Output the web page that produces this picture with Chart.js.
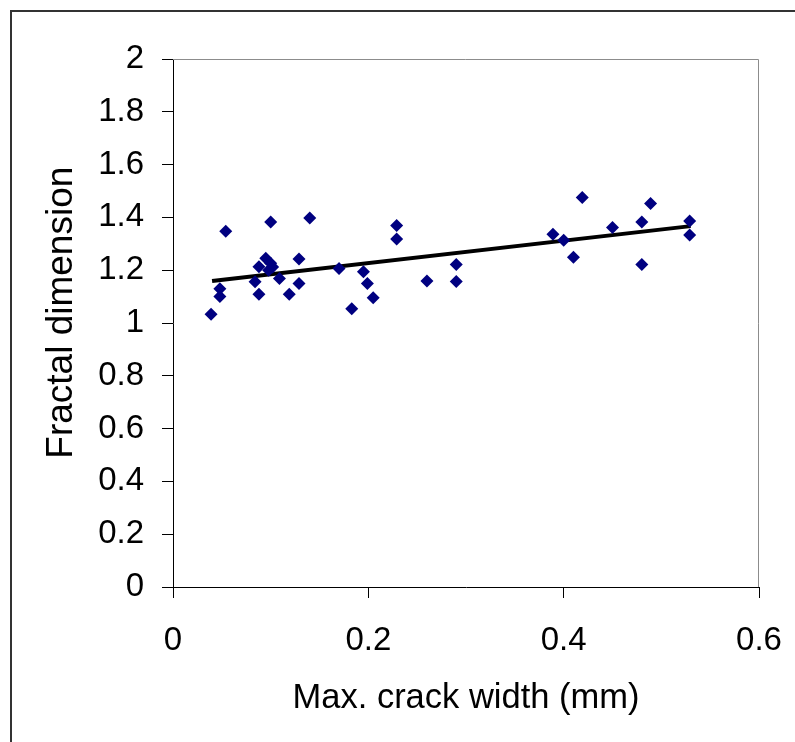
<!DOCTYPE html>
<html>
<head>
<meta charset="utf-8">
<script src="https://cdn.jsdelivr.net/npm/chart.js@4.4.1/dist/chart.umd.min.js"></script>
<style>
    body { margin: 0; background: #fff; }
    #wrap { position: relative; width: 795px; height: 742px; }
</style>
</head>
<body>
<div id="wrap"><canvas id="chart-scatter" width="795" height="742"></canvas></div>
<script>
// measured values
const crackWidth = [0.039, 0.048, 0.048, 0.054, 0.084, 0.088, 0.088, 0.095, 0.1, 0.1, 0.098, 0.102,
    0.109, 0.119, 0.129, 0.129, 0.14, 0.17, 0.183, 0.195, 0.199, 0.205, 0.229, 0.229,
    0.26, 0.29, 0.29, 0.389, 0.4, 0.41, 0.419, 0.45, 0.48, 0.48, 0.489, 0.529, 0.529];
const fractalDim = [1.033, 1.13, 1.1, 1.348, 1.156, 1.109, 1.213, 1.245, 1.226, 1.383, 1.2, 1.212,
    1.169, 1.109, 1.242, 1.15, 1.398, 1.206, 1.054, 1.194, 1.15, 1.096, 1.369, 1.318,
    1.159, 1.222, 1.157, 1.336, 1.313, 1.249, 1.475, 1.362, 1.383, 1.222, 1.453, 1.386, 1.333];

// trend line end points
const trendX = [0.04, 0.53];
const trendY = [1.159, 1.367];

const xTickLabels = ['0', '0.2', '0.4', '0.6'];
const yTickLabels = ['0', '0.2', '0.4', '0.6', '0.8', '1', '1.2', '1.4', '1.6', '1.8', '2'];

const points = crackWidth.map((x, i) => ({ x: x, y: fractalDim[i] }));
const trend = trendX.map((x, i) => ({ x: x, y: trendY[i] }));

// outer frame + grey top/right plot border
const framePlugin = {
    id: 'frame',
    beforeDraw(chart) {
        const ctx = chart.ctx;
        ctx.save();
        ctx.fillStyle = '#fff';
        ctx.fillRect(0, 0, chart.width, chart.height);
        ctx.strokeStyle = '#333';
        ctx.lineWidth = 2;
        ctx.strokeRect(11, 11, 900, 900);
        ctx.restore();
    },
    beforeDatasetsDraw(chart) {
        const a = chart.chartArea;
        const ctx = chart.ctx;
        ctx.save();
        ctx.strokeStyle = '#8c8c8c';
        ctx.lineWidth = 1;
        ctx.beginPath();
        ctx.moveTo(a.left, a.top + 0.5);
        ctx.lineTo(a.right - 0.5, a.top + 0.5);
        ctx.lineTo(a.right - 0.5, a.bottom);
        ctx.stroke();
        ctx.restore();
    }
};

const ctx = document.getElementById('chart-scatter').getContext('2d');
new Chart(ctx, {
    type: 'scatter',
    data: {
        datasets: [{
            label: 'Data',
            data: points,
            pointStyle: 'rectRot',
            pointRadius: 6.5,
            pointHoverRadius: 6.5,
            backgroundColor: '#000080',
            borderColor: '#000080',
            borderWidth: 0
        }, {
            type: 'line',
            label: 'Trend',
            data: trend,
            borderColor: '#000',
            borderWidth: 4,
            pointRadius: 0,
            fill: false
        }]
    },
    options: {
        responsive: false,
        animation: false,
        events: [],
        layout: {
            padding: { left: 0, top: 59, right: 36, bottom: 0 }
        },
        plugins: {
            legend: { display: false },
            tooltip: { enabled: false }
        },
        scales: {
            x: {
                type: 'linear',
                min: 0,
                max: 0.6,
                afterFit: (s) => {
                    s.height = 155;
                    s.paddingLeft = 0;
                    s.paddingRight = 0;
                },
                afterBuildTicks: (s) => {
                    s.ticks = xTickLabels.map(t => ({ value: parseFloat(t) }));
                },
                border: { color: '#000', width: 1 },
                grid: {
                    drawOnChartArea: false,
                    drawTicks: true,
                    tickLength: 11,
                    tickColor: '#000'
                },
                ticks: {
                    padding: 23,
                    color: '#000',
                    maxRotation: 0,
                    font: { family: 'Liberation Sans, Arial', size: 33 },
                    callback: (v, i) => xTickLabels[i]
                },
                title: {
                    display: true,
                    text: 'Max. crack width (mm)',
                    color: '#000',
                    padding: { top: 0, bottom: 23 },
                    font: { family: 'Liberation Sans, Arial', size: 34.5 }
                }
            },
            y: {
                type: 'linear',
                min: 0,
                max: 2,
                afterFit: (s) => {
                    s.width = 173;
                    s.paddingTop = 0;
                    s.paddingBottom = 0;
                },
                afterBuildTicks: (s) => {
                    s.ticks = yTickLabels.map(t => ({ value: parseFloat(t) }));
                },
                border: { color: '#000', width: 1 },
                grid: {
                    drawOnChartArea: false,
                    drawTicks: true,
                    tickLength: 11,
                    tickColor: '#000'
                },
                ticks: {
                    padding: 18,
                    color: '#000',
                    font: { family: 'Liberation Sans, Arial', size: 33 },
                    callback: (v, i) => yTickLabels[i]
                },
                title: {
                    display: true,
                    text: '  Fractal dimension',
                    color: '#000',
                    padding: { top: 40, bottom: 0 },
                    font: { family: 'Liberation Sans, Arial', size: 37 }
                }
            }
        }
    },
    plugins: [framePlugin]
});
</script>
</body>
</html>
